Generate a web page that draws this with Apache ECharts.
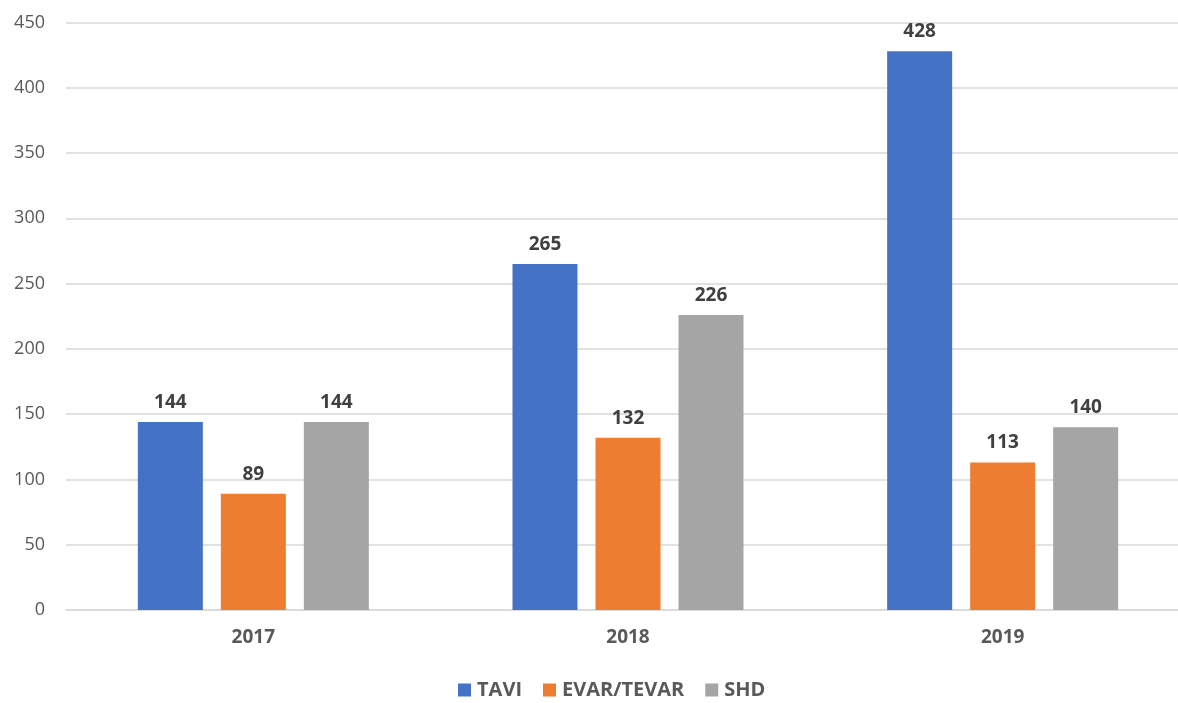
<!DOCTYPE html>
<html><head><meta charset="utf-8">
<script src="https://cdn.jsdelivr.net/npm/echarts@6/dist/echarts.min.js"></script>
<style>html,body{margin:0;padding:0;background:#fff}#c{width:1178px;height:703px}</style>
</head><body><div id="c"></div>
<script>
var categories = ['2017', '2018', '2019'];
var seriesNames = ['TAVI', 'EVAR/TEVAR', 'SHD'];
var tavi = [144, 265, 428];
var evar = [89, 132, 113];
var shd = [144, 226, 140];
var colors = ['#4472C4', '#ED7D31', '#A5A5A5'];
var font = 'Open Sans, Liberation Sans, sans-serif';
var chart = echarts.init(document.getElementById('c'), null, {renderer: 'canvas'});
function mk(name, data, color) {
  return {
    name: name, type: 'bar', data: data, barWidth: 65, barGap: '27.7%',
    itemStyle: {color: color},
    label: {show: true, position: 'top', distance: 10, color: '#404040', fontWeight: 'bold', fontSize: 19, fontFamily: font}
  };
}
chart.setOption({
  animation: false,
  color: colors,
  grid: {left: 66, width: 1124, top: 22.5, bottom: 93, containLabel: false, outerBoundsMode: 'none'},
  legend: {
    bottom: -2, left: 453, itemWidth: 13, itemHeight: 13, itemGap: 21, icon: 'rect',
    data: seriesNames,
    textStyle: {color: '#595959', fontSize: 20, fontWeight: 'bold', fontFamily: font, padding: [0, 0, 0, 1]}
  },
  xAxis: {
    type: 'category', data: categories,
    axisLine: {lineStyle: {color: '#d9d9d9', width: 1.5}},
    axisTick: {show: false},
    axisLabel: {color: '#595959', fontSize: 19, fontWeight: 'bold', margin: 18, fontFamily: font}
  },
  yAxis: {
    type: 'value', min: 0, max: 450, interval: 50,
    axisLine: {show: false}, axisTick: {show: false},
    splitLine: {lineStyle: {color: '#d9d9d9', width: 1.5}},
    axisLabel: {color: '#595959', fontSize: 18, margin: 21, fontFamily: font}
  },
  series: [mk(seriesNames[0], tavi, colors[0]), mk(seriesNames[1], evar, colors[1]), mk(seriesNames[2], shd, colors[2])]
});
</script></body></html>
